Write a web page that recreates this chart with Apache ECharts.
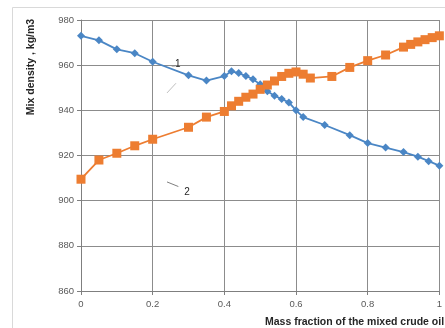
<!DOCTYPE html>
<html><head><meta charset="utf-8">
<script src="https://cdn.jsdelivr.net/npm/echarts@6/dist/echarts.min.js"></script>
<style>html,body{margin:0;padding:0;background:#fff}#c{width:445px;height:328px}</style>
</head><body><div id="c"></div>
<script>
var xTicks = [0, 0.2, 0.4, 0.6, 0.8, 1];
var yTicks = [860, 880, 900, 920, 940, 960, 980];

var s1x = [0, 0.05, 0.1, 0.15, 0.2, 0.3, 0.35, 0.4, 0.42, 0.44, 0.46, 0.48, 0.5, 0.52, 0.54, 0.56, 0.58, 0.6, 0.62, 0.68, 0.75, 0.8, 0.85, 0.9, 0.94, 0.97, 1.0];
var s1y = [973, 971, 967, 965.3, 961.5, 955.5, 953.2, 955.2, 957.3, 956.5, 955.2, 953.8, 951.5, 948.5, 946.5, 945, 943.5, 940, 937, 933.5, 929, 925.5, 923.5, 921.5, 919.5, 917.5, 915.5];

var s2x = [0, 0.05, 0.1, 0.15, 0.2, 0.3, 0.35, 0.4, 0.42, 0.44, 0.46, 0.48, 0.5, 0.52, 0.54, 0.56, 0.58, 0.6, 0.62, 0.64, 0.7, 0.75, 0.8, 0.85, 0.9, 0.92, 0.94, 0.96, 0.98, 1.0];
var s2y = [909.5, 918, 921, 924.3, 927.2, 932.5, 937, 939.5, 942, 944, 945.8, 947.2, 949.3, 951.2, 953, 955, 956.4, 957, 956, 954.3, 955, 959, 962, 964.5, 968, 969.2, 970.3, 971.3, 972.2, 973];

function pairs(xs, ys){ return xs.map(function(x,i){ return [x, ys[i]]; }); }

var FONT = 'Liberation Sans';
var chart = echarts.init(document.getElementById('c'), null, {renderer:'canvas'});
chart.setOption({
  animation:false,
  backgroundColor:'#fff',
  grid:{left:81, right:2, top:20, bottom:37},
  xAxis:{type:'value', min:0, max:1, interval:0.2,
    axisLine:{show:true, lineStyle:{color:'#7f7f7f'}},
    axisTick:{show:true, length:4, lineStyle:{color:'#7f7f7f'}},
    axisLabel:{color:'#595959', fontFamily:FONT, fontSize:9.5, margin:8,
      formatter:function(v){ return String(Math.round(v*10)/10); }},
    splitLine:{show:true, lineStyle:{color:'#8c8c8c', width:1}}},
  yAxis:{type:'value', min:860, max:980, interval:20,
    axisLine:{show:true, lineStyle:{color:'#7f7f7f'}},
    axisTick:{show:true, length:4, lineStyle:{color:'#7f7f7f'}},
    axisLabel:{color:'#595959', fontFamily:FONT, fontSize:9.5, margin:7},
    splitLine:{show:true, lineStyle:{color:'#8c8c8c', width:1}}},
  graphic:[
    {type:'line', shape:{x1:12.5, y1:7.5, x2:445, y2:7.5}, style:{stroke:'#d9d9d9', lineWidth:1}},
    {type:'line', shape:{x1:12.5, y1:7.5, x2:12.5, y2:328}, style:{stroke:'#d9d9d9', lineWidth:1}},
    {type:'text', x:31, y:67, rotation:Math.PI/2,
      style:{text:'Mix density , kg/m3', font:'bold 10.5px "Liberation Sans"', fill:'#262626', align:'center', verticalAlign:'middle'}},
    {type:'text', x:265, y:322,
      style:{text:'Mass fraction of the mixed crude oil', font:'bold 10.5px "Liberation Sans"', fill:'#262626', align:'left', verticalAlign:'middle'}}
  ],
  series:[
    {type:'line', name:'1', data:pairs(s1x, s1y), symbol:'diamond', symbolSize:8,
      lineStyle:{color:'#4a86c5', width:1.8}, itemStyle:{color:'#4a86c5'}, z:3,
      markLine:{silent:true, symbol:'none', label:{show:false},
        lineStyle:{color:'#bfbfbf', type:'solid', width:1},
        data:[
          [{coord:[0.24, 947.7]}, {coord:[0.265, 952]}],
          [{coord:[0.253, 959.6]}, {coord:[0.262, 959.6]}]
        ]},
      markPoint:{silent:true, symbol:'circle', symbolSize:0,
        label:{show:true, formatter:'1', color:'#262626', fontFamily:FONT, fontSize:10, position:'inside'},
        data:[{coord:[0.27, 960.3]}]}
    },
    {type:'line', name:'2', data:pairs(s2x, s2y), symbol:'rect', symbolSize:9,
      lineStyle:{color:'#ed7d31', width:1.8}, itemStyle:{color:'#ed7d31'}, z:4,
      markLine:{silent:true, symbol:'none', label:{show:false},
        lineStyle:{color:'#7f7f7f', type:'solid', width:1},
        data:[
          [{coord:[0.24, 908.3]}, {coord:[0.282, 905.6]}]
        ]},
      markPoint:{silent:true, symbol:'circle', symbolSize:0,
        label:{show:true, formatter:'2', color:'#262626', fontFamily:FONT, fontSize:10, position:'inside',
          backgroundColor:'#fff', padding:[1,6,1,6]},
        data:[{coord:[0.296, 903.8]}]}
    }
  ]
});
</script></body></html>
